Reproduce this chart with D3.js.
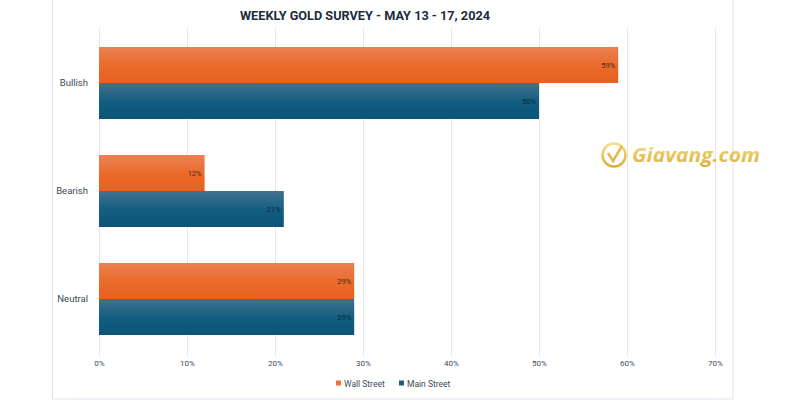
<!DOCTYPE html>
<html><head><meta charset="utf-8">
<script src="https://cdn.jsdelivr.net/npm/d3@7"></script>
<style>body{margin:0;background:#fff}svg{display:block}</style>
</head><body><svg id="c" width="800" height="400"></svg>
<script>
const categories = ["Bullish", "Bearish", "Neutral"];
const seriesNames = ["Wall Street", "Main Street"];
const wallStreet = [59, 12, 29];
const mainStreet = [50, 21, 29];
const xTicks = [0, 10, 20, 30, 40, 50, 60, 70];
const title = "WEEKLY GOLD SURVEY - MAY 13 - 17, 2024";

const svg = d3.select("#c");
const defs = svg.append("defs");
const gO = defs.append("linearGradient").attr("id","gO").attr("x1",0).attr("x2",0).attr("y1",0).attr("y2",1);
gO.append("stop").attr("offset","0%").attr("stop-color","#ec8052");
gO.append("stop").attr("offset","55%").attr("stop-color","#ea6a2a");
gO.append("stop").attr("offset","100%").attr("stop-color","#e6611e");
const gB = defs.append("linearGradient").attr("id","gB").attr("x1",0).attr("x2",0).attr("y1",0).attr("y2",1);
gB.append("stop").attr("offset","0%").attr("stop-color","#41728f");
gB.append("stop").attr("offset","55%").attr("stop-color","#115c80");
gB.append("stop").attr("offset","100%").attr("stop-color","#0c5577");
const gG = defs.append("linearGradient").attr("id","gG").attr("x1",0).attr("x2",0).attr("y1",0).attr("y2",1);
gG.append("stop").attr("offset","0%").attr("stop-color","#f3dc7a");
gG.append("stop").attr("offset","100%").attr("stop-color","#d9a520");

// frame
svg.append("rect").attr("x",52.5).attr("y",-5).attr("width",680.5).attr("height",404)
  .attr("fill","none").attr("stroke","#dde5ee").attr("stroke-width",1);

const x = d3.scaleLinear().domain([0,70]).range([99,715]);
const y = d3.scaleBand().domain(categories).range([29,353]).paddingInner(1/3).paddingOuter(1/6);
const ys = d3.scaleBand().domain(seriesNames).range([0,y.bandwidth()]);

// gridlines
svg.append("g").selectAll("line").data(xTicks).join("line")
  .attr("x1",d=>x(d)+0.5).attr("x2",d=>x(d)+0.5).attr("y1",28).attr("y2",356)
  .attr("stroke","#e3e8ee").attr("stroke-width",1);

// x axis labels
const xa = svg.append("g").attr("transform","translate(0,357)")
  .call(d3.axisBottom(x).tickValues(xTicks).tickFormat(d=>d+"%").tickSize(0));
xa.select(".domain").remove();
xa.selectAll("text").attr("font-family","Roboto, sans-serif").attr("font-size",8).attr("fill","#404a55");

// y labels
const ya = svg.append("g").attr("transform","translate(91,0)")
  .call(d3.axisLeft(y).tickSize(0));
ya.select(".domain").remove();
ya.selectAll("text").attr("font-family","Roboto, sans-serif").attr("font-size",9.5).attr("fill","#404a55");

const rows = categories.map((c,i)=>({c, vals:[wallStreet[i], mainStreet[i]]}));
const fills = ["url(#gO)","url(#gB)"];
const g = svg.append("g");
rows.forEach(r=>{
  r.vals.forEach((v,j)=>{
    const yy = y(r.c)+ys(seriesNames[j]);
    g.append("rect").attr("x",x(0)).attr("y",yy).attr("width",x(v)-x(0)).attr("height",ys.bandwidth())
      .attr("fill",fills[j]);
    g.append("text").attr("x",x(v)-3).attr("y",yy+ys.bandwidth()/2+3)
      .attr("text-anchor","end").attr("font-family","Roboto, sans-serif").attr("font-size",7.5)
      .attr("fill", j===0 ? "#4a2a1a" : "#0b2a3d").text(v+"%");
  });
});

// title
svg.append("text").attr("x",365).attr("y",20).attr("text-anchor","middle")
  .attr("font-family","Roboto, sans-serif").attr("font-weight","bold").attr("font-size",13.5)
  .attr("fill","#1d2b3a").attr("textLength",250).attr("lengthAdjust","spacingAndGlyphs").text(title);

// legend
const lg = svg.append("g").attr("transform","translate(336,384)");
const lx = [0, 63];
seriesNames.forEach((s,i)=>{
  lg.append("rect").attr("x",lx[i]).attr("y",-3.5).attr("width",5).attr("height",5)
    .attr("fill", i===0 ? "#e8733c" : "#1d5c7e");
  lg.append("text").attr("x",lx[i]+8).attr("y",2.5).attr("font-family","Roboto, sans-serif")
    .attr("font-size",8.5).attr("fill","#404a55").text(s);
});

// watermark
const wm = svg.append("g").attr("transform","translate(614,155)").attr("opacity",0.9);
wm.append("circle").attr("cx",0).attr("cy",0).attr("r",11.5).attr("fill","none").attr("stroke","url(#gG)").attr("stroke-width",2.5);
wm.append("path").attr("d","M-6,-2 L-1,6 L8,-9").attr("fill","none").attr("stroke","#e0b43a").attr("stroke-width",2.5);
wm.append("text").attr("x",18).attr("y",7).attr("font-family","'Open Sans', sans-serif").attr("font-weight","bold")
  .attr("font-style","italic").attr("font-size",20).attr("fill","url(#gG)")
  .attr("textLength",128).attr("lengthAdjust","spacingAndGlyphs").text("Giavang.com");
</script></body></html>
